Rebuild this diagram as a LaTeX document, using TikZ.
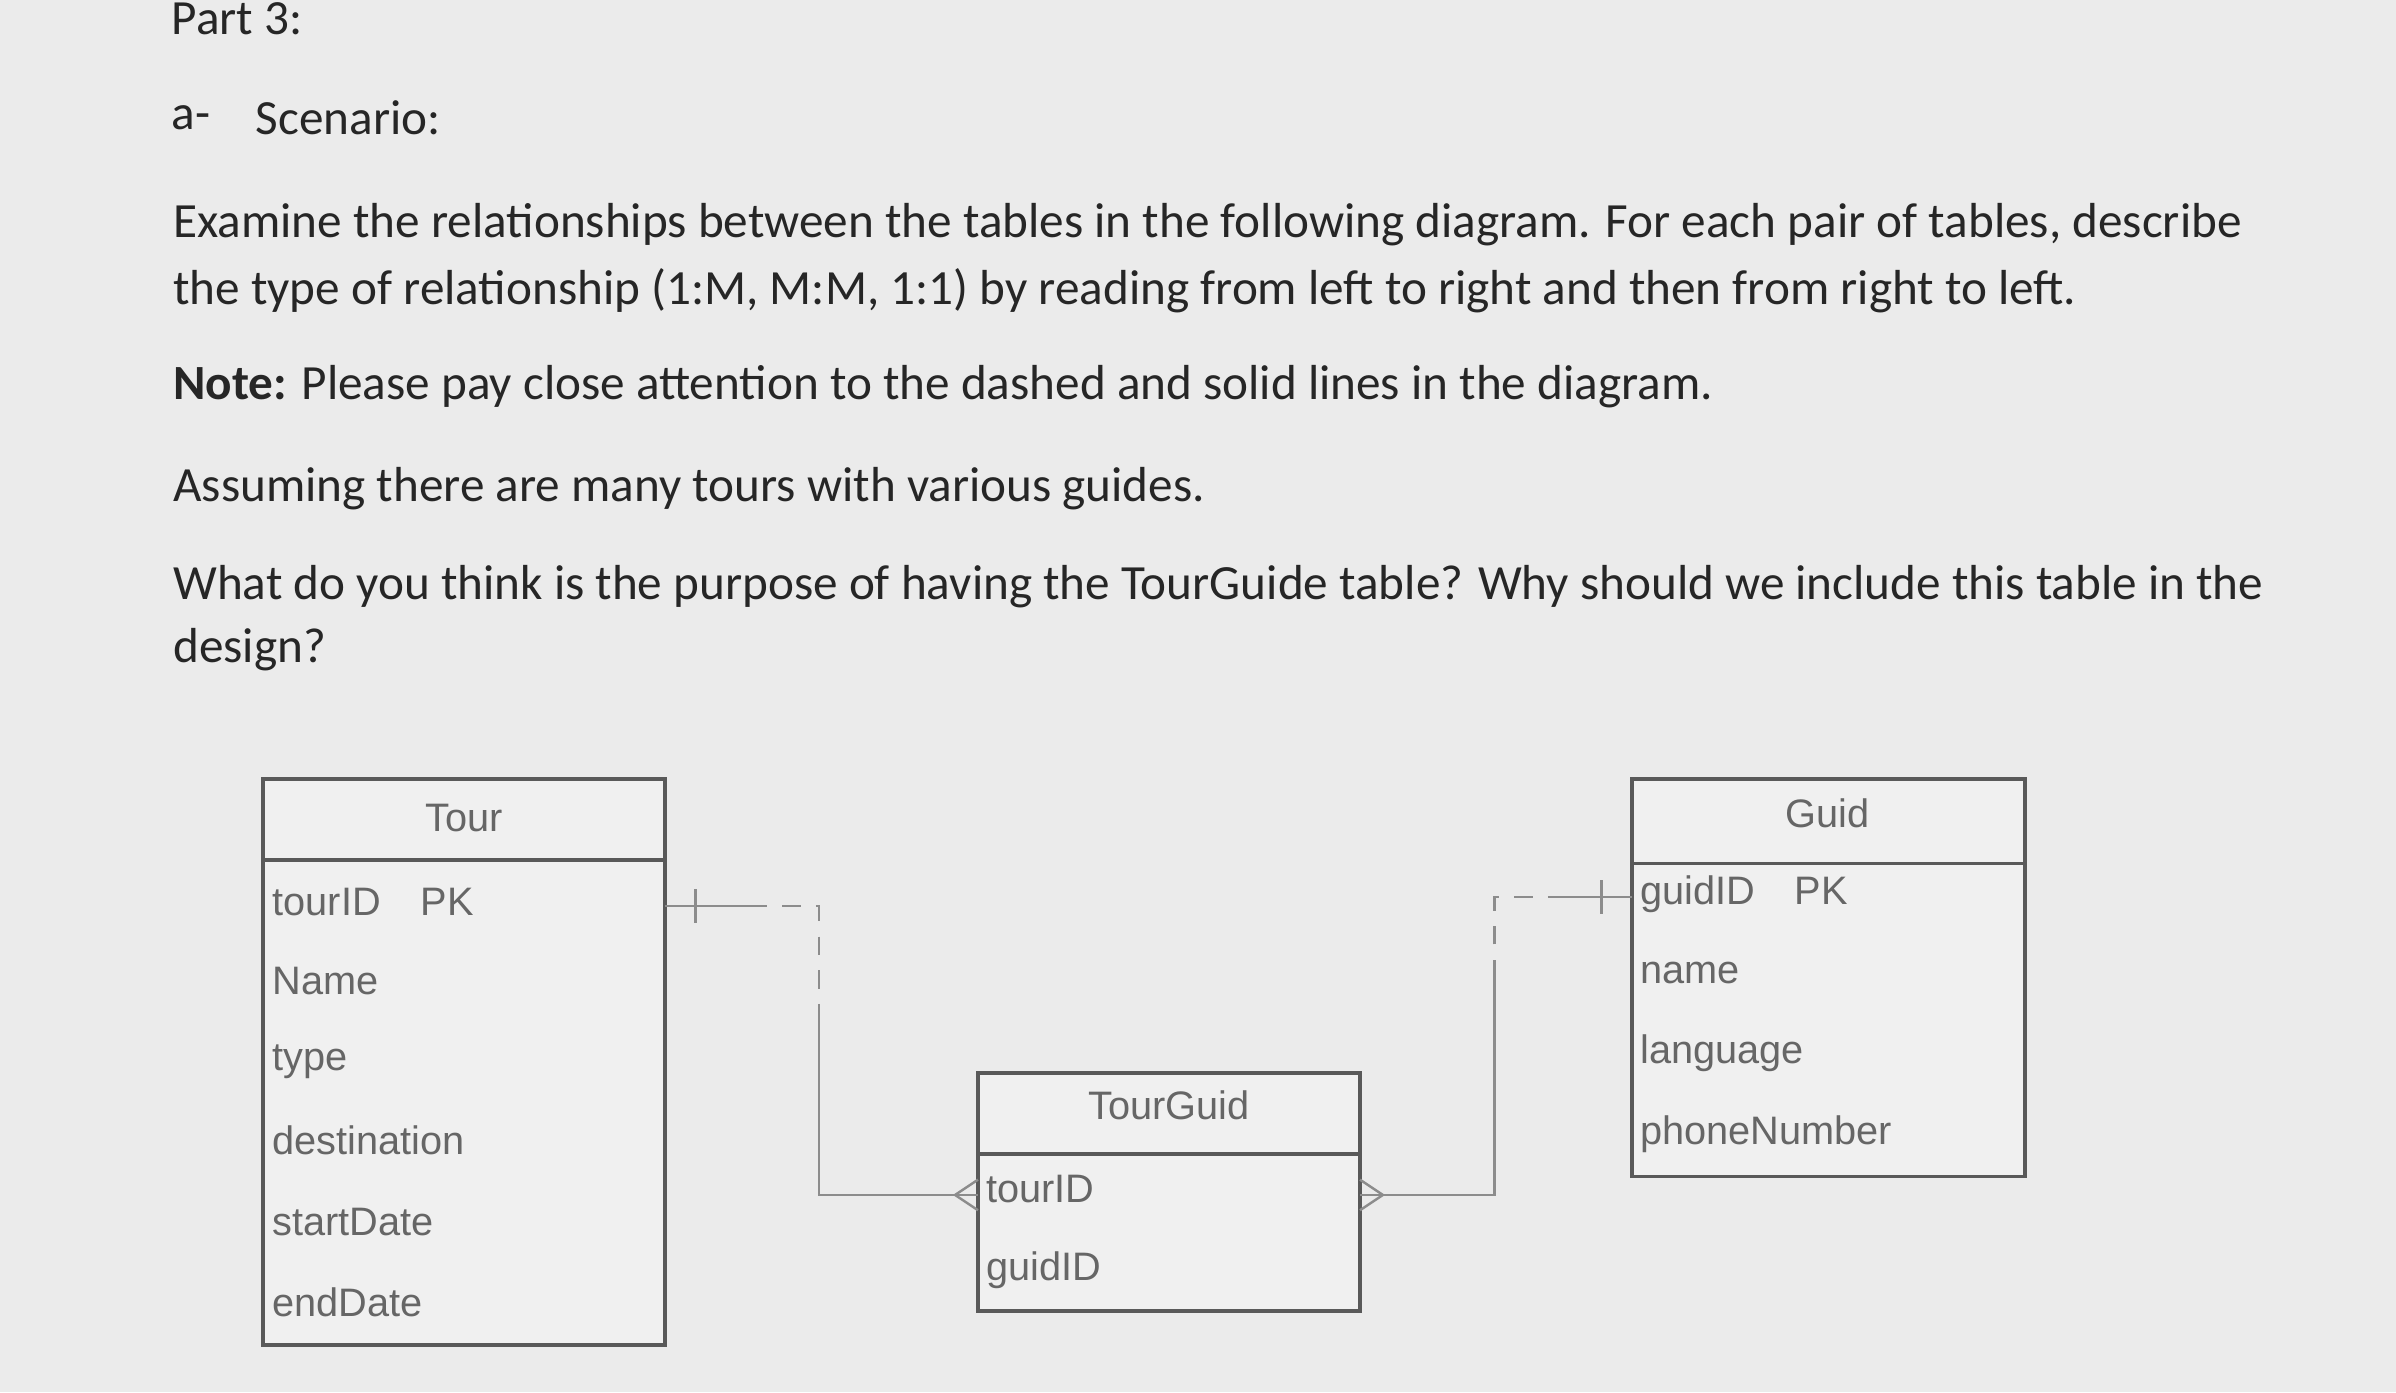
\documentclass[tikz,border=0pt]{standalone}
\usepackage{fontspec}
\setmainfont{Carlito}
\newfontfamily\tabfont{Liberation Sans}
\begin{document}
\begin{tikzpicture}[x=0.5pt,y=-0.5pt,
 txt/.style={anchor=west,inner sep=0pt,font=\fontsize{16.1}{18}\selectfont,text=black!85},
 tbl/.style={draw=black!65,line width=1.2pt,fill=black!6},
 fld/.style={anchor=west,inner sep=0pt,font=\tabfont\fontsize{13}{15}\selectfont,text=black!60},
 conn/.style={draw=black!45,line width=0.8pt},
 dconn/.style={conn,dash pattern=on 6pt off 5pt}]
\fill[black!8] (0,0) rectangle (1568,911);
\useasboundingbox (0,0) rectangle (1568,911);
\node[txt] (p3) at (112,12) {Part 3:};
\node[txt] (a) at (112,77) {a-};
\node[txt] (sc) at (167,77) {Scenario:};
\node[txt] (l1) at (113,147) {Examine the relationships between the tables in the following diagram. For each pair of tables, describe};
\node[txt] (l2) at (113,190) {the type of relationship (1:M, M:M, 1:1) by reading from left to right and then from right to left.};
\node[txt] (l3) at (113,253) {\textbf{Note:} Please pay close attention to the dashed and solid lines in the diagram.};
\node[txt] (l4) at (113,320) {Assuming there are many tours with various guides.};
\node[txt] (l5) at (113,384) {What do you think is the purpose of having the TourGuide table? Why should we include this table in the};
\node[txt] (l6) at (113,425) {design?};
% Tour
\draw[tbl] (172,510) rectangle (435,880);
\draw[black!65,line width=1.2pt] (172,563) -- (435,563);
\node[fld,anchor=center] (tt) at (304,535) {Tour};
\node[fld] (t1) at (178,590) {tourID\quad PK};
\node[fld] (t2) at (178,642) {Name};
\node[fld] (t3) at (178,695) {type};
\node[fld] (t4) at (178,746) {destination};
\node[fld] (t5) at (178,800) {startDate};
\node[fld] (t6) at (178,852) {endDate};
% Guid
\draw[tbl] (1068,510) rectangle (1325,770);
\draw[black!65,line width=1.2pt] (1068,565) -- (1325,565);
\node[fld,anchor=center] (gt) at (1196,532) {Guid};
\node[fld] (g1) at (1073,585) {guidID\quad PK};
\node[fld] (g2) at (1073,637) {name};
\node[fld] (g3) at (1073,689) {language};
\node[fld] (g4) at (1073,742) {phoneNumber};
% TourGuid
\draw[tbl] (640,702) rectangle (890,858);
\draw[black!65,line width=1.2pt] (640,755) -- (890,755);
\node[fld,anchor=center] (tgt) at (765,723) {TourGuid};
\node[fld] (tg1) at (645,778) {tourID};
\node[fld] (tg2) at (645,831) {guidID};
% connectors
\coordinate (c1) at (435,593);
\coordinate (c2) at (490,593);
\coordinate (c3) at (536,593);
\coordinate (c4) at (536,665);
\coordinate (c5) at (536,782);
\coordinate (c6) at (640,782);
\draw[conn] (c1) -- (c2);
\draw[dconn] (c2) -- (c3) -- (c4);
\draw[conn] (c4) -- (c5) -- (c6);
\draw[conn] (455,582) -- (455,604);
\draw[conn] (640,772) -- (625,782) -- (640,792);
\coordinate (d1) at (890,782);
\coordinate (d2) at (978,782);
\coordinate (d3) at (978,640);
\coordinate (d4) at (978,587);
\coordinate (d5) at (1025,587);
\coordinate (d6) at (1068,587);
\draw[conn] (d1) -- (d2) -- (d3);
\draw[dconn] (d3) -- (d4) -- (d5);
\draw[conn] (d5) -- (d6);
\draw[conn] (1048,576) -- (1048,598);
\draw[conn] (890,772) -- (905,782) -- (890,792);
\end{tikzpicture}
\end{document}
